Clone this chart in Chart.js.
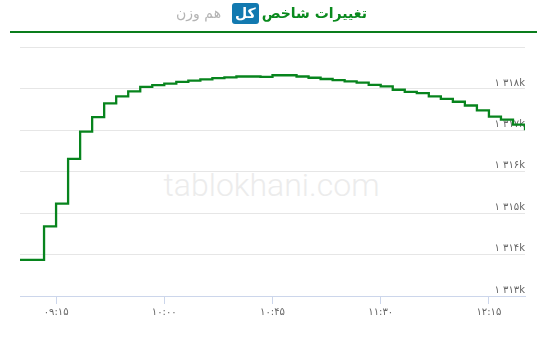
<!DOCTYPE html>
<html>
<head>
<meta charset="utf-8">
<script src="https://cdn.jsdelivr.net/npm/chart.js@4.4.1/dist/chart.umd.min.js"></script>
<style>
  html, body { margin: 0; padding: 0; background: #fff; }
  #wrap { position: relative; width: 547px; height: 341px; overflow: hidden; }
  #head { position: absolute; top: 1px; left: 0; width: 543px; text-align: center; direction: rtl;
          font-family: "DejaVu Sans", sans-serif; font-weight: bold; font-size: 14px; line-height: 24px; }
  #head .t1 { color: #0a8a1e; }
  #head .box { display: inline-block; background: #1279b0; color: #fff; border-radius: 3px;
               padding: 0 3px; height: 21px; line-height: 21px; margin: 0 3px 0 11px; }
  #head .t2 { color: #b4b4b4; font-weight: normal; }
  #rule { position: absolute; top: 31px; left: 10px; width: 527px; height: 2px; background: #0a7d1c; }
  #mark { position: absolute; top: 167px; left: 0; width: 543px; text-align: center;
          font-family: Roboto, sans-serif; font-weight: 300; font-size: 32px; line-height: 36px; color: #ececec; }
  canvas { position: absolute; top: 0; left: 0; }
</style>
</head>
<body>
<div id="wrap">
  <div id="mark">tablokhani.com</div>
  <canvas id="grafica" width="547" height="341"></canvas>
  <div id="head"><span class="t1">تغییرات شاخص</span><span class="box">کل</span><span class="t2">هم وزن</span></div>
  <div id="rule"></div>
</div>
<script>
// times of each step (start of the 5 minute bar)
var times = ['09:00', '09:10', '09:15', '09:20', '09:25', '09:30', '09:35', '09:40', '09:45', '09:50',
  '09:55', '10:00', '10:05', '10:10', '10:15', '10:20', '10:25', '10:30', '10:35', '10:40',
  '10:45', '10:50', '10:55', '11:00', '11:05', '11:10', '11:15', '11:20', '11:25', '11:30',
  '11:35', '11:40', '11:45', '11:50', '11:55', '12:00', '12:05', '12:10', '12:15', '12:20',
  '12:25', '12:30'];
// index value, in thousands
var valores = [1313.87, 1314.68, 1315.23, 1316.31, 1316.97, 1317.32, 1317.65, 1317.82, 1317.94, 1318.05,
  1318.09, 1318.13, 1318.17, 1318.20, 1318.23, 1318.26, 1318.28, 1318.30, 1318.30, 1318.29,
  1318.33, 1318.33, 1318.30, 1318.27, 1318.24, 1318.21, 1318.18, 1318.15, 1318.10, 1318.06,
  1317.98, 1317.93, 1317.90, 1317.82, 1317.76, 1317.69, 1317.60, 1317.48, 1317.33, 1317.26,
  1317.14, 1317.00];
var tickTimes = ['09:15', '10:00', '10:45', '11:30', '12:15'];
var yMin = 1313, yMax = 1319;

var faDigits = '۰۱۲۳۴۵۶۷۸۹';
function aFarsi(s) {
    return String(s).replace(/[0-9]/g, function (d) { return faDigits[+d]; });
}
function minutos(t) {
    var p = t.split(':');
    return (+p[0] - 9) * 60 + (+p[1]);
}
function hora(m) {
    var h = 9 + Math.floor(m / 60), mm = m % 60;
    return (h < 10 ? '0' : '') + h + ':' + (mm < 10 ? '0' : '') + mm;
}

var puntos = times.map(function (t, i) { return { x: minutos(t), y: valores[i] }; });

const ctx = document.getElementById('grafica');
new Chart(ctx, {
    type: 'line',
    data: {
        datasets: [{
            data: puntos,
            borderColor: '#07841d',
            borderWidth: 2.3,
            stepped: true,
            pointRadius: 0,
            fill: false
        }]
    },
    options: {
        responsive: false,
        animation: false,
        layout: { padding: { left: 20, right: 22, top: 47.5, bottom: 0 } },
        plugins: { legend: { display: false }, tooltip: { enabled: false } },
        scales: {
            x: {
                type: 'linear',
                min: 0,
                max: 210,
                afterBuildTicks: function (s) {
                    s.ticks = tickTimes.map(function (t) { return { value: minutos(t) }; });
                },
                afterFit: function (s) { s.height = 45; },
                grid: { drawOnChartArea: false, drawTicks: true, tickLength: 8, color: '#ccd6eb' },
                border: { display: true, color: '#ccd6eb', width: 1 },
                ticks: {
                    autoSkip: false,
                    maxRotation: 0,
                    padding: 2,
                    color: '#666',
                    font: { family: 'DejaVu Sans', size: 10 },
                    callback: function (v) { return aFarsi(hora(v)); }
                }
            },
            y: {
                position: 'right',
                min: yMin,
                max: yMax,
                afterFit: function (s) { s.width = 0; },
                grid: {
                    drawTicks: false,
                    color: function (c) { return c.tick && c.tick.value === yMin ? 'rgba(0,0,0,0)' : '#e6e6e6'; }
                },
                border: { display: false },
                ticks: {
                    stepSize: 1,
                    mirror: true,
                    padding: 0,
                    labelOffset: -6,
                    color: '#666',
                    font: { family: 'DejaVu Sans', size: 10 },
                    callback: function (v) {
                        if (v === yMax) return '';
                        return aFarsi(String(v).replace(/\B(?=(\d{3})+(?!\d))/g, ' ')) + 'k';
                    }
                }
            }
        }
    }
});
</script>
</body>
</html>
